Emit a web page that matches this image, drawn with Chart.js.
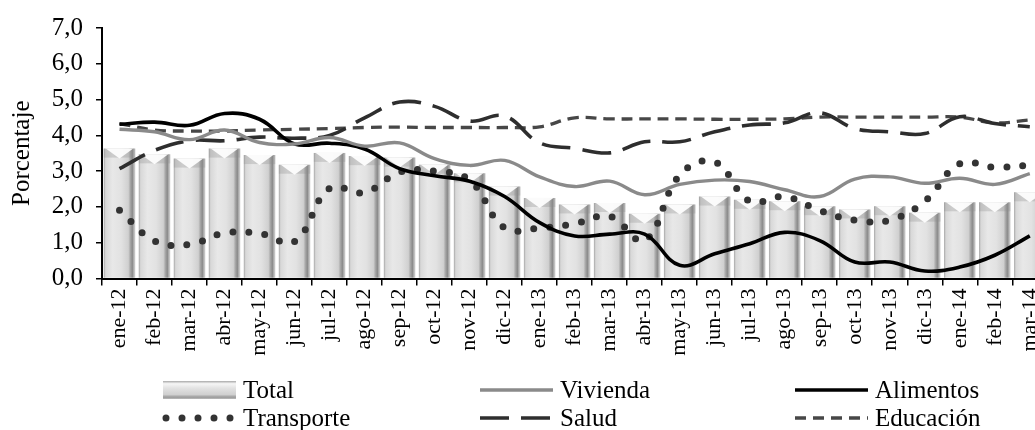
<!DOCTYPE html>
<html lang="es">
<head>
<meta charset="utf-8">
<title>Variación de precios por grupo</title>
<script src="https://cdn.jsdelivr.net/npm/chart.js@4.4.1/dist/chart.umd.min.js"></script>
<style>
  html, body { margin: 0; padding: 0; background: #fff; overflow: hidden; }
  #wrap { position: relative; width: 1060px; height: 430px; }
</style>
</head>
<body>
<div id="wrap"><canvas id="grafico"></canvas></div>
<script>
// ---------------- datos (porcentaje) ----------------
const meses = ['ene-12','feb-12','mar-12','abr-12','may-12','jun-12','jul-12','ago-12','sep-12',
  'oct-12','nov-12','dic-12','ene-13','feb-13','mar-13','abr-13','may-13','jun-13','jul-13',
  'ago-13','sep-13','oct-13','nov-13','dic-13','ene-14','feb-14','mar-14'];

const total      = [3.63, 3.47, 3.35, 3.63, 3.45, 3.18, 3.51, 3.42, 3.38, 3.18, 2.94, 2.57, 2.25, 2.07,
                    2.11, 1.81, 2.07, 2.29, 2.20, 2.16, 2.02, 1.93, 2.02, 1.84, 2.13, 2.13, 2.41];
const vivienda   = [4.17, 4.10, 3.88, 4.15, 3.80, 3.76, 3.94, 3.70, 3.79, 3.35, 3.16, 3.30, 2.84, 2.57,
                    2.72, 2.34, 2.63, 2.75, 2.71, 2.48, 2.29, 2.78, 2.84, 2.66, 2.80, 2.63, 2.93];
const alimentos  = [4.31, 4.37, 4.28, 4.61, 4.45, 3.76, 3.78, 3.62, 3.07, 2.87, 2.72, 2.29, 1.56, 1.19,
                    1.24, 1.24, 0.37, 0.69, 0.97, 1.29, 1.06, 0.46, 0.46, 0.21, 0.32, 0.65, 1.19];
const transporte = [1.91, 1.05, 0.95, 1.27, 1.26, 1.03, 2.52, 2.40, 2.97, 3.00, 2.75, 1.41, 1.41, 1.53,
                    1.74, 1.06, 2.89, 3.26, 2.16, 2.29, 1.90, 1.63, 1.63, 2.16, 3.21, 3.11, 3.16];
const salud      = [3.07, 3.58, 3.85, 3.85, 3.95, 3.92, 4.00, 4.49, 4.93, 4.81, 4.40, 4.54, 3.79, 3.64,
                    3.51, 3.82, 3.82, 4.10, 4.29, 4.35, 4.63, 4.19, 4.10, 4.05, 4.52, 4.33, 4.24];
const educacion  = [4.33, 4.15, 4.12, 4.12, 4.15, 4.17, 4.19, 4.22, 4.23, 4.22, 4.22, 4.22, 4.24, 4.49,
                    4.46, 4.46, 4.46, 4.45, 4.45, 4.46, 4.51, 4.51, 4.51, 4.51, 4.51, 4.35, 4.43];

Chart.defaults.font.family = '"Liberation Serif", "Times New Roman", serif';
Chart.defaults.color = '#000';

const ANCHO_BARRA = 0.9;

// relleno tipo cilindro para cada columna (degradado horizontal)
function cilindro(c) {
  const chart = c.chart;
  const xs = chart.scales.x;
  if (c.type !== 'data' || !xs || !chart.chartArea) return '#dcdcdc';
  const cx = xs.getPixelForValue(c.dataIndex);
  const w = xs.width / meses.length * ANCHO_BARRA;
  const g = chart.ctx.createLinearGradient(cx - w / 2, 0, cx + w / 2, 0);
  g.addColorStop(0.00, '#a6a6a6');
  g.addColorStop(0.06, '#d8d8d8');
  g.addColorStop(0.28, '#e8e8e8');
  g.addColorStop(0.55, '#e2e2e2');
  g.addColorStop(0.78, '#d0d0d0');
  g.addColorStop(0.86, '#9e9e9e');
  g.addColorStop(0.91, '#8c8c8c');
  g.addColorStop(0.96, '#bababa');
  g.addColorStop(1.00, '#d2d2d2');
  return g;
}

// remate superior en "V" de las columnas
const remateColumnas = {
  id: 'remateColumnas',
  afterDatasetDraw(chart, args) {
    if (args.index !== 0) return;
    const ctx = chart.ctx;
    ctx.save();
    args.meta.data.forEach(bar => {
      const x0 = bar.x - bar.width / 2, x1 = bar.x + bar.width / 2, top = bar.y;
      ctx.fillStyle = 'rgba(140,140,140,0.3)';
      ctx.fillRect(x0, top, bar.width, 9);
      ctx.beginPath();
      ctx.moveTo(x0 + 2, top);
      ctx.lineTo(x1 - 2, top);
      ctx.lineTo(bar.x, top + 10);
      ctx.closePath();
      ctx.fillStyle = 'rgba(255,255,255,0.92)';
      ctx.fill();
    });
    ctx.restore();
  }
};

// leyenda en tres columnas debajo del eje
const leyenda = {
  id: 'leyenda',
  afterDraw(chart) {
    const ctx = chart.ctx;
    const cols = [163, 480, 795];
    const filas = [390, 418];
    const largo = 73;
    const ds = chart.data.datasets;
    ctx.save();
    ctx.font = '25px "Liberation Serif", "Times New Roman", serif';
    ctx.textBaseline = 'middle';
    ds.forEach((d, i) => {
      const x = cols[i % 3], y = filas[Math.floor(i / 3)];
      if (d.type === 'bar') {
        const g = ctx.createLinearGradient(0, y - 9, 0, y + 9);
        g.addColorStop(0.00, '#a8a8a8');
        g.addColorStop(0.15, '#f6f6f6');
        g.addColorStop(0.40, '#e2e2e2');
        g.addColorStop(0.75, '#d0d0d0');
        g.addColorStop(0.90, '#9a9a9a');
        g.addColorStop(1.00, '#bcbcbc');
        ctx.fillStyle = g;
        ctx.fillRect(x, y - 9, largo, 18);
      } else {
        ctx.beginPath();
        ctx.strokeStyle = d.borderColor;
        ctx.lineWidth = d.borderWidth;
        ctx.lineCap = d.borderCapStyle || 'butt';
        ctx.setLineDash(d.borderDash || []);
        const x0 = d.borderCapStyle === 'round' ? x + 3 : x;
        ctx.moveTo(x0, y);
        ctx.lineTo(x + largo, y);
        ctx.stroke();
        ctx.setLineDash([]);
      }
      ctx.fillStyle = '#000';
      ctx.fillText(d.label, x + 80, y + 1);
    });
    ctx.restore();
  }
};

function linea(label, data, color, ancho, extra) {
  return Object.assign({
    type: 'line', label, data,
    borderColor: color, borderWidth: ancho,
    pointRadius: 0, pointHoverRadius: 0,
    tension: 0.4, fill: false, order: 1
  }, extra || {});
}

new Chart(document.getElementById('grafico'), {
  data: {
    labels: meses,
    datasets: [
      { type: 'bar', label: 'Total', data: total, backgroundColor: cilindro,
        barPercentage: ANCHO_BARRA, categoryPercentage: 1.0, order: 10 },
      linea('Vivienda', vivienda, '#8a8a8a', 3.4),
      linea('Alimentos', alimentos, '#000000', 3.6),
      linea('Transporte', transporte, '#333333', 7, { borderDash: [0, 16], borderCapStyle: 'round' }),
      linea('Salud', salud, '#2e2e2e', 3.6, { borderDash: [29, 12] }),
      linea('Educación', educacion, '#474747', 3.3, { borderDash: [11, 7] })
    ]
  },
  options: {
    responsive: true,
    maintainAspectRatio: false,
    animation: false,
    events: [],
    layout: { padding: { top: 23.5, right: 12.7, bottom: 0, left: 0 } },
    plugins: { legend: { display: false }, tooltip: { enabled: false } },
    scales: {
      x: {
        grid: { offset: true, drawOnChartArea: false, tickLength: 7, color: '#000', lineWidth: 1.5 },
        border: { color: '#000', width: 2 },
        ticks: { autoSkip: false, maxRotation: 90, minRotation: 90, padding: 3, font: { size: 22 } },
        afterFit(s) { s.height = 151.5; s.paddingLeft = 0; s.paddingRight = 0; }
      },
      y: {
        min: 0, max: 7,
        grid: { drawOnChartArea: false, tickLength: 6, color: '#000', lineWidth: 1.5 },
        border: { color: '#000', width: 2 },
        ticks: { stepSize: 1, padding: 13, font: { size: 25 },
                 callback: v => v.toFixed(1).replace('.', ',') },
        title: { display: true, text: 'Porcentaje', font: { size: 25 }, padding: { top: 7, bottom: 0 } },
        afterFit(s) { s.width = 102; }
      }
    }
  },
  plugins: [remateColumnas, leyenda]
});
</script>
</body>
</html>
